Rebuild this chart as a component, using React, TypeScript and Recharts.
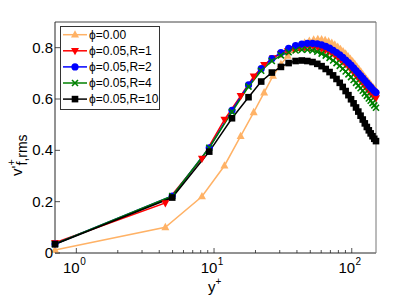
import { LineChart, Line, XAxis, YAxis, Legend } from 'recharts'

// y+ grids (two different resolutions)
const yPlusA = [0.7, 4.43, 8.17, 11.9, 15.6, 19.4, 23.1, 26.8, 30.6, 34.3, 38.0, 41.7, 45.5, 49.2, 52.9, 56.7, 60.4, 64.1, 67.9, 71.6, 75.3, 79.1, 82.8, 86.5, 90.3, 94.0, 97.7, 101.5, 105.2, 108.9, 112.7, 116.4, 120.1, 123.9, 127.6, 131.3, 135.1, 138.8, 142.5, 146.3, 150.0]
const yPlusB = [0.7, 4.97, 9.23, 13.5, 17.8, 22.0, 26.3, 30.6, 34.8, 39.1, 43.4, 47.6, 51.9, 56.2, 60.4, 64.7, 69.0, 73.2, 77.5, 81.8, 86.0, 90.3, 94.6, 98.8, 103.1, 107.4, 111.6, 115.9, 120.2, 124.4, 128.7, 133.0, 137.2, 141.5, 145.7, 150.0]

const phi000 = [0.012, 0.10, 0.22, 0.34, 0.455, 0.548, 0.625, 0.69, 0.735, 0.768, 0.792, 0.808, 0.819, 0.826, 0.831, 0.833, 0.832, 0.829, 0.824, 0.818, 0.811, 0.803, 0.794, 0.785, 0.776, 0.766, 0.756, 0.746, 0.736, 0.726, 0.716, 0.706, 0.696, 0.687, 0.678, 0.669, 0.661, 0.653, 0.646, 0.639, 0.633]
const phiR1 = [0.04, 0.195, 0.368, 0.52, 0.612, 0.688, 0.733, 0.76, 0.776, 0.787, 0.795, 0.800, 0.803, 0.804, 0.803, 0.800, 0.796, 0.791, 0.785, 0.778, 0.771, 0.763, 0.755, 0.746, 0.737, 0.728, 0.719, 0.709, 0.700, 0.690, 0.681, 0.671, 0.662, 0.653, 0.645, 0.637, 0.629, 0.622, 0.615, 0.609, 0.604]
const phiR2 = [0.035, 0.222, 0.41, 0.556, 0.655, 0.718, 0.757, 0.781, 0.797, 0.808, 0.814, 0.817, 0.817, 0.815, 0.811, 0.805, 0.798, 0.790, 0.781, 0.772, 0.762, 0.752, 0.742, 0.732, 0.721, 0.711, 0.701, 0.691, 0.681, 0.672, 0.663, 0.654, 0.646, 0.638, 0.631, 0.625]
const phiR4 = [0.035, 0.222, 0.41, 0.55, 0.648, 0.71, 0.748, 0.77, 0.782, 0.789, 0.792, 0.792, 0.789, 0.784, 0.777, 0.769, 0.760, 0.750, 0.740, 0.729, 0.718, 0.707, 0.696, 0.685, 0.674, 0.663, 0.652, 0.642, 0.632, 0.622, 0.612, 0.602, 0.593, 0.584, 0.575, 0.566]
const phiR10 = [0.034, 0.216, 0.395, 0.525, 0.607, 0.668, 0.703, 0.725, 0.74, 0.748, 0.75, 0.748, 0.744, 0.737, 0.728, 0.717, 0.705, 0.692, 0.678, 0.663, 0.647, 0.631, 0.615, 0.599, 0.583, 0.567, 0.551, 0.535, 0.52, 0.505, 0.491, 0.478, 0.466, 0.455, 0.445, 0.436]

const xTicks = [1, 2, 3, 4, 5, 6, 7, 8, 9, 10, 20, 30, 40, 50, 60, 70, 80, 90, 100]
const xTickLabels: Record<number, string> = { 1: '0', 10: '1', 100: '2' }
const yTicks = [0, 0.2, 0.4, 0.6, 0.8]
const yTickLabels = ['0', '0.2', '0.4', '0.6', '0.8']

const FONT = '"Liberation Sans", Arial, sans-serif'
const AXIS = '#262626'

const toPts = (xs: number[], ys: number[]) => xs.map((x, i) => ({ x, y: ys[i] }))

type Marker = 'up' | 'down' | 'circle' | 'x' | 'square'

function drawMarker(kind: Marker, cx: number, cy: number, color: string, key?: string) {
  if (kind === 'up') return <path key={key} d={`M${cx},${cy - 4.5}L${cx + 4},${cy + 2.8}L${cx - 4},${cy + 2.8}Z`} fill={color} />
  if (kind === 'down') return <path key={key} d={`M${cx - 4},${cy - 2.8}L${cx + 4},${cy - 2.8}L${cx},${cy + 4.5}Z`} fill={color} />
  if (kind === 'circle') return <circle key={key} cx={cx} cy={cy} r={3.6} fill={color} />
  if (kind === 'square') return <rect key={key} x={cx - 3.3} y={cy - 3.3} width={6.6} height={6.6} fill={color} />
  return (
    <path key={key} d={`M${cx - 3},${cy - 3}L${cx + 3},${cy + 3}M${cx - 3},${cy + 3}L${cx + 3},${cy - 3}`} stroke={color} strokeWidth={1.6} />
  )
}

const series = [
  { name: 'ϕ=0.00', data: toPts(yPlusA, phi000), color: '#FFB266', marker: 'up' as Marker },
  { name: 'ϕ=0.05,R=1', data: toPts(yPlusA, phiR1), color: '#FF0000', marker: 'down' as Marker },
  { name: 'ϕ=0.05,R=2', data: toPts(yPlusB, phiR2), color: '#0000FF', marker: 'circle' as Marker },
  { name: 'ϕ=0.05,R=4', data: toPts(yPlusB, phiR4), color: '#008000', marker: 'x' as Marker },
  { name: 'ϕ=0.05,R=10', data: toPts(yPlusB, phiR10), color: '#000000', marker: 'square' as Marker },
]

function BottomTick(props: any) {
  const { x, y, payload } = props
  const v = payload.value
  const label = xTickLabels[v]
  const len = label !== undefined ? 5 : 3
  return (
    <g>
      <line x1={x} y1={y} x2={x} y2={y - len} stroke={AXIS} strokeWidth={0.8} />
      {label !== undefined && (
        <text x={x - 2} y={y + 20} textAnchor="middle" fontFamily={FONT} fontSize={15} fill="#000">
          10
          <tspan dx={0.5} dy={-8} fontSize={10}>{label}</tspan>
        </text>
      )}
    </g>
  )
}

function TopTick(props: any) {
  const { x, y, payload } = props
  const len = xTickLabels[payload.value] !== undefined ? 5 : 3
  return <line x1={x} y1={y} x2={x} y2={y + len} stroke={AXIS} strokeWidth={0.8} />
}

function LeftTick(props: any) {
  const { x, y, payload } = props
  const i = yTicks.indexOf(payload.value)
  return (
    <g>
      <line x1={x} y1={y} x2={x + 5} y2={y} stroke={AXIS} strokeWidth={0.8} />
      <text x={x - 2} y={y + 5} textAnchor="end" fontFamily={FONT} fontSize={15} fill="#000">
        {yTickLabels[i]}
      </text>
    </g>
  )
}

function RightTick(props: any) {
  const { x, y } = props
  return <line x1={x} y1={y} x2={x - 5} y2={y} stroke={AXIS} strokeWidth={0.8} />
}

function LegendBox() {
  const rowH = 16.1
  return (
    <svg width={100} height={84} style={{ display: 'block' }}>
      <rect x={0.5} y={0.5} width={99} height={83} fill="#fff" stroke="#333" strokeWidth={1} />
      {series.map((s, i) => {
        const cy = 8.7 + i * rowH
        return (
          <g key={s.name}>
            <line x1={3} y1={cy} x2={27} y2={cy} stroke={s.color} strokeWidth={1.5} />
            {drawMarker(s.marker, 15, cy, s.color)}
            <text x={29} y={cy + 4.3} fontFamily={FONT} fontSize={12} fill="#000">
              {s.name}
            </text>
          </g>
        )
      })}
    </svg>
  )
}

export default function App() {
  return (
    <div style={{ position: 'absolute', left: 0, top: 0, width: 415, height: 297, background: '#fff' }}>
      <LineChart width={415} height={297} margin={{ top: 2, right: 19, bottom: 0, left: 0 }}>
        <XAxis
          xAxisId="b"
          dataKey="x"
          type="number"
          scale="log"
          domain={[0.7, 150]}
          ticks={xTicks}
          interval={0}
          height={44}
          tickSize={0}
          tickMargin={0}
          tick={BottomTick}
          axisLine={{ stroke: AXIS, strokeWidth: 1 }}
          tickLine={false}
        />
        <XAxis
          xAxisId="t"
          orientation="top"
          dataKey="x"
          type="number"
          scale="log"
          domain={[0.7, 150]}
          ticks={xTicks}
          interval={0}
          height={20}
          tickSize={0}
          tickMargin={0}
          tick={TopTick}
          axisLine={{ stroke: '#444', strokeWidth: 1 }}
          tickLine={false}
        />
        <YAxis
          yAxisId="l"
          type="number"
          domain={[0, 0.9]}
          ticks={yTicks}
          interval={0}
          width={55}
          tickSize={0}
          tickMargin={0}
          tick={LeftTick}
          axisLine={{ stroke: AXIS, strokeWidth: 1 }}
          tickLine={false}
        />
        <YAxis
          yAxisId="r"
          orientation="right"
          type="number"
          domain={[0, 0.9]}
          ticks={yTicks}
          interval={0}
          width={20}
          tickSize={0}
          tickMargin={0}
          tick={RightTick}
          axisLine={{ stroke: '#777', strokeWidth: 1 }}
          tickLine={false}
        />
        {series.map((s) => (
          <Line
            key={s.name}
            xAxisId="b"
            yAxisId="l"
            data={s.data}
            dataKey="y"
            name={s.name}
            stroke={s.color}
            strokeWidth={1.5}
            isAnimationActive={false}
            legendType="none"
            dot={(p: any) => drawMarker(s.marker, p.cx, p.cy, s.color, `${s.name}-${p.index}`)}
            activeDot={false}
          />
        ))}
        <Legend
          layout="vertical"
          align="center"
          verticalAlign="middle"
          content={() => <LegendBox />}
          wrapperStyle={{ position: 'absolute', left: 60, top: 26, width: 100, height: 84 }}
        />
      </LineChart>
      <svg width={415} height={297} style={{ position: 'absolute', left: 0, top: 0, pointerEvents: 'none' }}>
        <text x={208} y={292} fontFamily={FONT} fontSize={15} fill="#000">
          y<tspan dy={-7} fontSize={10}>+</tspan>
        </text>
        <g transform="translate(22,176) rotate(-90)">
          <text x={0} y={0} fontFamily={FONT} fontSize={15} fill="#000">v'</text>
          <text x={10.5} y={-7} fontFamily={FONT} fontSize={11} fill="#000">+</text>
          <text x={10.5} y={5} fontFamily={FONT} fontSize={14} fill="#000">f,rms</text>
        </g>
      </svg>
    </div>
  )
}
